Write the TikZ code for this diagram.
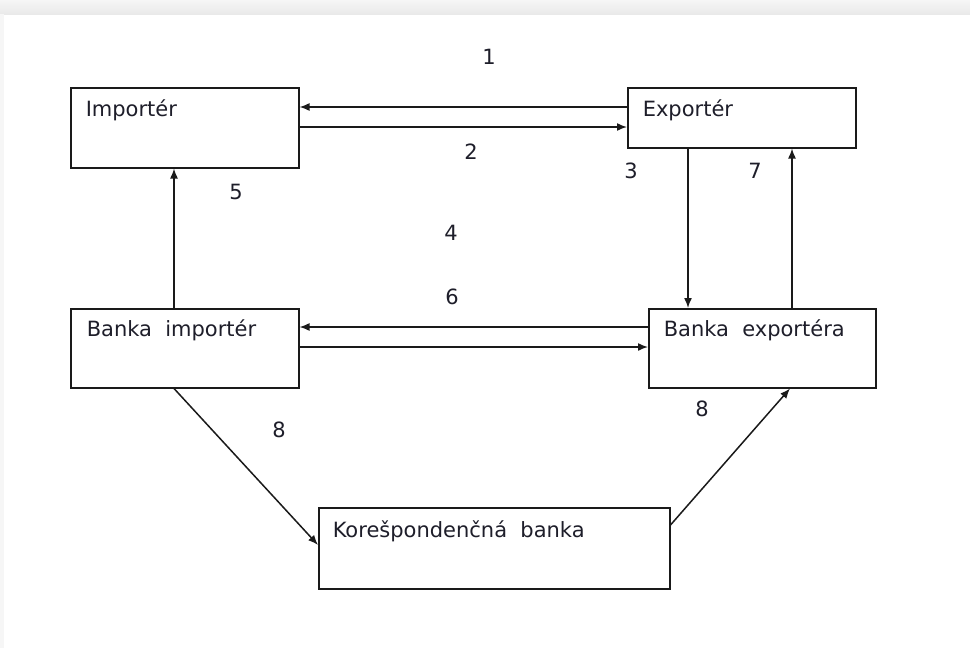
\documentclass[tikz,border=0pt]{standalone}
\usepackage{fontspec}
\setmainfont{DejaVu Sans}
\usetikzlibrary{arrows.meta}
\definecolor{txt}{HTML}{1E1E2A}
\definecolor{ln}{HTML}{1A1A1A}
\definecolor{bandtop}{HTML}{F6F6F6}
\definecolor{bandbot}{HTML}{E9E9E9}
\tikzset{
  box/.style={draw=ln, line width=1.5pt, rectangle, anchor=north west, inner ysep=0pt,
    inner xsep=15pt, align=left, font=\fontsize{21}{24}\selectfont, text=txt},
  num/.style={font=\fontsize{21}{24}\selectfont, text=txt, inner sep=0pt},
  arr/.style={draw=ln, line width=1.5pt, -{Latex[length=10pt,width=8pt]}}
}
\begin{document}
\begin{tikzpicture}[x=1pt,y=-1pt]
\useasboundingbox (0,0) rectangle (970,648);
\fill[white] (0,0) rectangle (970,648);
\shade[top color=bandtop, bottom color=bandbot] (0,0) rectangle (970,14);
\fill[bandtop] (0,14) rectangle (4,648);
% boxes
\node[box, text width=198pt, text height=29pt, text depth=51pt] (imp) at (70,87) {Importér};
\node[box, text width=198pt, text height=29pt, text depth=31pt] (exp) at (627,87) {Exportér};
\node[box, inner xsep=16pt, text width=196pt, text height=28pt, text depth=51pt] (bimp) at (70,308) {Banka\hspace{0.3em} importér};
\node[box, text width=197pt, text height=28pt, text depth=51pt] (bexp) at (648,308) {Banka\hspace{0.3em} exportéra};
\node[box, inner xsep=14pt, text width=323pt, text height=30pt, text depth=51pt] (kor) at (318,507) {Korešpondenčná\hspace{0.3em} banka};
% numbers
\node[num] (n1) at (489,57) {1};
\node[num] (n2) at (471,152) {2};
\node[num] (n3) at (631,171) {3};
\node[num] (n7) at (755,171) {7};
\node[num] (n5) at (236,192) {5};
\node[num] (n4) at (451,233) {4};
\node[num] (n6) at (452,297) {6};
\node[num] (n8a) at (279,430) {8};
\node[num] (n8b) at (702,409) {8};
% connectors
\draw[arr] (exp.west |- 0,107) -- (imp.east |- 0,107);
\draw[arr] (imp.east |- 0,127) -- (exp.west |- 0,127);
\draw[arr] (exp.south -| 688,0) -- (bexp.north -| 688,0);
\draw[arr] (bexp.north -| 792,0) -- (exp.south -| 792,0);
\draw[arr] (bimp.north -| 174,0) -- (imp.south -| 174,0);
\draw[arr] (bexp.west |- 0,327) -- (bimp.east |- 0,327);
\draw[arr] (bimp.east |- 0,347) -- (bexp.west |- 0,347);
\draw[arr] (bimp.south -| 174,0) -- (kor.west |- 0,545);
\draw[arr] (kor.east |- 0,525) -- (bexp.south -| 790,0);
\end{tikzpicture}
\end{document}
